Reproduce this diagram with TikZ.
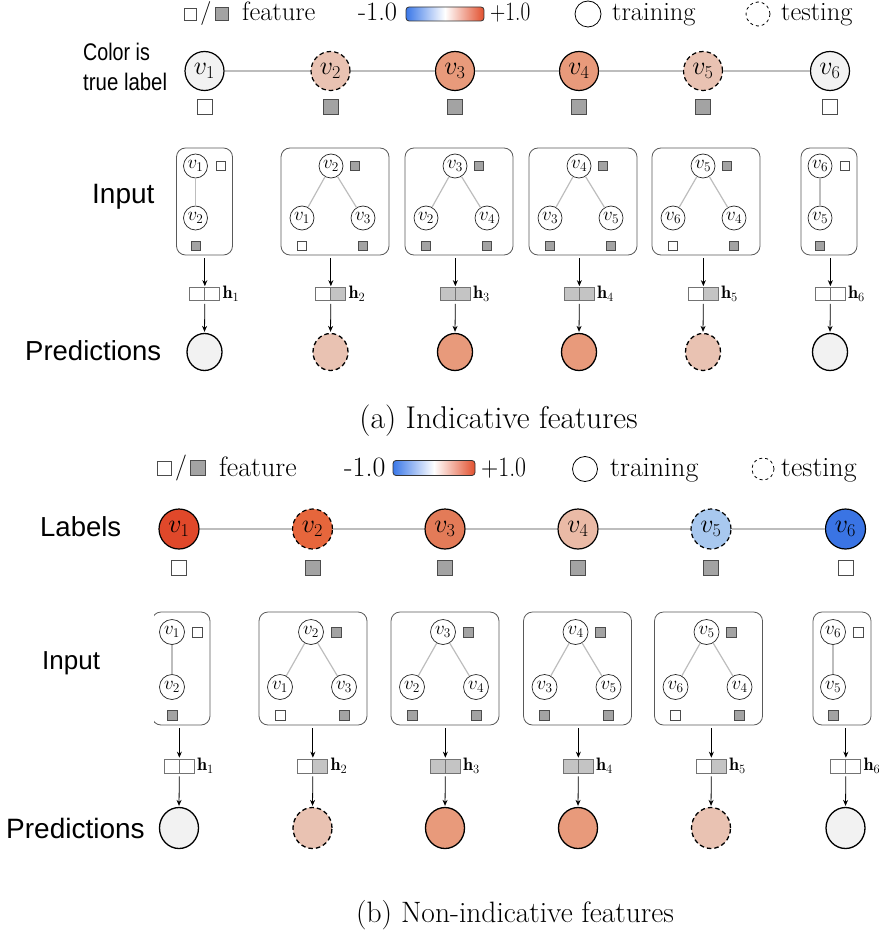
\RequirePackage{fix-cm}
\documentclass[tikz,border=0pt]{standalone}
\usepackage{fontspec}
\newfontfamily\sidefont{Liberation Sans}
\usetikzlibrary{shapes.geometric,arrows.meta}
\newcommand\fsz[1]{\fontsize{#1}{#1}\selectfont}

\definecolor{nodegray}{HTML}{F2F2F2}
\definecolor{salmonL}{HTML}{E9C2B2}
\definecolor{salmon}{HTML}{E89A7B}
\definecolor{redA}{HTML}{E0482A}
\definecolor{redB}{HTML}{E6663C}
\definecolor{redC}{HTML}{E37B58}
\definecolor{pinkD}{HTML}{EABAA6}
\definecolor{blueE}{HTML}{A8C8EF}
\definecolor{blueF}{HTML}{3A74E4}
\definecolor{featgray}{HTML}{A3A3A3}
\definecolor{cellgray}{HTML}{C4C4C4}
\definecolor{edgegray}{HTML}{BDBDBD}
\definecolor{cbblue}{HTML}{3B78E8}
\definecolor{cbred}{HTML}{E2502E}

\begin{document}
\begin{tikzpicture}[x=1pt,y=-1pt,font=\fsz{26.5},
  bignode/.style={circle,draw=black,line width=1.2pt,minimum size=39pt,inner sep=0pt,font=\fsz{26}},
  testnode/.style={dash pattern=on 4.5pt off 3pt},
  featf/.style={rectangle,draw=black!70,line width=.8pt,fill=featgray,minimum size=#1,inner sep=0pt},
  featw/.style={rectangle,draw=black!70,line width=.8pt,fill=white,minimum size=#1,inner sep=0pt},
  smallnode/.style={circle,draw=black!85,line width=.7pt,fill=white,minimum size=#1,inner sep=0pt,font=\fsz{19}},
  inbox/.style={rectangle,rounded corners=9pt,draw=black!65,line width=.8pt,inner sep=0pt},
  rowline/.style={draw=edgegray,line width=2.4pt},
  subedge/.style={draw=edgegray,line width=1.2pt},
  arr/.style={-{Stealth[length=6pt,width=5pt]},line width=.8pt,shorten <=3pt,shorten >=1pt},
  hcell/.style={rectangle,draw=black!55,line width=.7pt,minimum width=15pt,minimum height=#1,inner sep=0pt},
  hlabel/.style={anchor=west,inner sep=2.5pt,font=\fsz{18}},
  pred/.style={ellipse,draw=black,line width=1.3pt,inner sep=0pt},
  sidelabel/.style={anchor=west,inner sep=0pt,font=\sidefont\fsz{#1}},
  legtext/.style={anchor=base west,inner sep=0pt},
  cbar/.style={rectangle,rounded corners=3pt,draw=black!80,line width=.8pt,left color=cbblue,right color=cbred,middle color=white,inner sep=0pt},
  legcirc/.style={circle,draw=black,line width=.8pt,minimum size=#1,inner sep=0pt},
  caption/.style={inner sep=0pt,font=\fsz{#1}}]
\useasboundingbox (0,0) rectangle (878,941);

% ---------------- (a) legend ----------------
\node[featw=12pt] (lgaw) at (190,14) {};
\node[inner sep=0pt,font=\fsz{24}] (lgas) at (206,14) {/};
\node[featf=13pt] (lgaf) at (222,14) {};
\node[legtext] (lgaft) at (242,21) {feature};
\node[legtext] (lgamin) at (358,21) {-1.0};
\node[cbar,minimum width=78pt,minimum height=14pt] (lgacb) at (445,14) {};
\node[legtext] (lgamax) at (490,21) {\scalebox{.8}[1]{+1.0}};
\node[legcirc=26pt] (lgatr) at (588,14) {};
\node[legtext] (lgatrt) at (612,21) {training};
\node[legcirc=24pt,dash pattern=on 3pt off 3pt] (lgate) at (758,14) {};
\node[legtext] (lgatet) at (781,21) {testing};

% ---------------- (a) graph with true labels ----------------
\node[anchor=base west,inner sep=0pt,font=\sidefont\fsz{24}] (colA) at (83,61) {\scalebox{.82}[1]{Color is}};
\node[anchor=base west,inner sep=0pt,font=\sidefont\fsz{24}] (colB) at (83,91) {\scalebox{.85}[1]{true label}};

\node[bignode,fill=nodegray] (ra1) at (204.5,71) {$v_1$};
\node[bignode,testnode,fill=salmonL] (ra2) at (330.5,71) {$v_2$};
\node[bignode,fill=salmon] (ra3) at (455,71) {$v_3$};
\node[bignode,fill=salmon] (ra4) at (579,71) {$v_4$};
\node[bignode,testnode,fill=salmonL] (ra5) at (703,71) {$v_5$};
\node[bignode,fill=nodegray] (ra6) at (830,71) {$v_6$};
\draw[rowline] (ra1) -- (ra2) (ra2) -- (ra3) (ra3) -- (ra4) (ra4) -- (ra5) (ra5) -- (ra6);
\node[featw=15pt] (fa1) at (204.5,107) {};
\node[featf=15pt] (fa2) at (330.5,107) {};
\node[featf=15pt] (fa3) at (455,107) {};
\node[featf=15pt] (fa4) at (579,107) {};
\node[featf=15pt] (fa5) at (703,107) {};
\node[featw=15pt] (fa6) at (830,107) {};

% ---------------- (a) input subgraphs ----------------
\node[sidelabel=28] (inlabA) at (92,197) {Input};
\node[inbox,minimum width=56pt,minimum height=107pt] (ina1) at (204.5,201.5) {};
\node[inbox,minimum width=108pt,minimum height=107pt] (ina2) at (335,201.5) {};
\node[inbox,minimum width=108pt,minimum height=107pt] (ina3) at (459,201.5) {};
\node[inbox,minimum width=108pt,minimum height=107pt] (ina4) at (583,201.5) {};
\node[inbox,minimum width=108pt,minimum height=107pt] (ina5) at (706,201.5) {};
\node[inbox,minimum width=56pt,minimum height=107pt] (ina6) at (829,201.5) {};

% box 1
\node[smallnode=24pt] (a1t) at (195.5,166) {$v_1$};
\node[featw=9pt] (a1tf) at (220.5,166) {};
\node[smallnode=24pt] (a1b) at (195.5,218) {$v_2$};
\node[featf=9pt] (a1bf) at (195.5,246) {};
\draw[subedge] (a1t) -- (a1b);
% box 2
\node[smallnode=24pt] (a2t) at (331,166) {$v_2$};
\node[featf=9pt] (a2tf) at (355,166) {};
\node[smallnode=24pt] (a2l) at (302,218) {$v_1$};
\node[smallnode=24pt] (a2r) at (363,218) {$v_3$};
\node[featw=9pt] (a2lf) at (302,246) {};
\node[featf=9pt] (a2rf) at (363,246) {};
\draw[subedge] (a2t) -- (a2l) (a2t) -- (a2r);
% box 3
\node[smallnode=24pt] (a3t) at (455,166) {$v_3$};
\node[featf=9pt] (a3tf) at (479,166) {};
\node[smallnode=24pt] (a3l) at (426,218) {$v_2$};
\node[smallnode=24pt] (a3r) at (487,218) {$v_4$};
\node[featf=9pt] (a3lf) at (426,246) {};
\node[featf=9pt] (a3rf) at (487,246) {};
\draw[subedge] (a3t) -- (a3l) (a3t) -- (a3r);
% box 4
\node[smallnode=24pt] (a4t) at (579,166) {$v_4$};
\node[featf=9pt] (a4tf) at (603,166) {};
\node[smallnode=24pt] (a4l) at (550,218) {$v_3$};
\node[smallnode=24pt] (a4r) at (611,218) {$v_5$};
\node[featf=9pt] (a4lf) at (550,246) {};
\node[featf=9pt] (a4rf) at (611,246) {};
\draw[subedge] (a4t) -- (a4l) (a4t) -- (a4r);
% box 5
\node[smallnode=24pt] (a5t) at (703,166) {$v_5$};
\node[featf=9pt] (a5tf) at (727,166) {};
\node[smallnode=24pt] (a5l) at (673,218) {$v_6$};
\node[smallnode=24pt] (a5r) at (734,218) {$v_4$};
\node[featw=9pt] (a5lf) at (673,246) {};
\node[featf=9pt] (a5rf) at (734,246) {};
\draw[subedge] (a5t) -- (a5l) (a5t) -- (a5r);
% box 6
\node[smallnode=24pt] (a6t) at (820,166) {$v_6$};
\node[featw=9pt] (a6tf) at (845,166) {};
\node[smallnode=24pt] (a6b) at (820,218) {$v_5$};
\node[featf=9pt] (a6bf) at (820,246) {};
\draw[subedge] (a6t) -- (a6b);

% ---------------- (a) embeddings and predictions ----------------
\node[hcell=13pt,fill=white]    (ha1l) at (197,294) {};
\node[hcell=13pt,fill=white]    (ha1r) at (212,294) {};
\node[hcell=13pt,fill=white]    (ha2l) at (323,294) {};
\node[hcell=13pt,fill=cellgray] (ha2r) at (338,294) {};
\node[hcell=13pt,fill=cellgray] (ha3l) at (447.5,294) {};
\node[hcell=13pt,fill=cellgray] (ha3r) at (462.5,294) {};
\node[hcell=13pt,fill=cellgray] (ha4l) at (571.5,294) {};
\node[hcell=13pt,fill=cellgray] (ha4r) at (586.5,294) {};
\node[hcell=13pt,fill=white]    (ha5l) at (695.5,294) {};
\node[hcell=13pt,fill=cellgray] (ha5r) at (710.5,294) {};
\node[hcell=13pt,fill=white]    (ha6l) at (822.5,294) {};
\node[hcell=13pt,fill=white]    (ha6r) at (837.5,294) {};
\node[hlabel] (hta1) at (ha1r.east) {$\mathbf{h}_1$};
\node[hlabel] (hta2) at (ha2r.east) {$\mathbf{h}_2$};
\node[hlabel] (hta3) at (ha3r.east) {$\mathbf{h}_3$};
\node[hlabel] (hta4) at (ha4r.east) {$\mathbf{h}_4$};
\node[hlabel] (hta5) at (ha5r.east) {$\mathbf{h}_5$};
\node[hlabel] (hta6) at (ha6r.east) {$\mathbf{h}_6$};

\node[sidelabel=27.5] (predlabA) at (25,351) {Predictions};
\node[pred,fill=nodegray,minimum width=35pt,minimum height=37pt] (pa1) at (204.5,352) {};
\node[pred,testnode,fill=salmonL,minimum width=35pt,minimum height=37pt] (pa2) at (330.5,352) {};
\node[pred,fill=salmon,minimum width=35pt,minimum height=37pt] (pa3) at (455,352) {};
\node[pred,fill=salmon,minimum width=35pt,minimum height=37pt] (pa4) at (579,352) {};
\node[pred,testnode,fill=salmonL,minimum width=35pt,minimum height=37pt] (pa5) at (703,352) {};
\node[pred,fill=nodegray,minimum width=35pt,minimum height=37pt] (pa6) at (830,352) {};

\foreach \k in {1,...,6}{
  \draw[arr] (ina\k.south -| ha\k l.east) -- (ha\k l.north east);
  \draw[arr] (ha\k l.south east) -- (pa\k.north);
}

\node[caption=31.5] (capA) at (498.5,421) {(a) Indicative features};

% ---------------- (b) legend ----------------
\begin{scope}[font=\fsz{28}]
\node[featw=14pt] (lgbw) at (164,468) {};
\node[inner sep=0pt,font=\fsz{26}] (lgbs) at (181,468) {/};
\node[featf=15pt] (lgbf) at (198,468) {};
\node[legtext] (lgbft) at (219,476) {feature};
\node[legtext] (lgbmin) at (344,476) {-1.0};
\node[cbar,minimum width=82pt,minimum height=15pt] (lgbcb) at (434,468) {};
\node[legtext] (lgbmax) at (481,476) {\scalebox{.85}[1]{+1.0}};
\node[legcirc=25pt] (lgbtr) at (585,469) {};
\node[legtext] (lgbtrt) at (610,476) {training};
\node[legcirc=22pt,dash pattern=on 3pt off 3pt] (lgbte) at (763,469) {};
\node[legtext] (lgbtet) at (781,476) {testing};
\end{scope}

% ---------------- (b) graph with labels ----------------
\node[sidelabel=27.5] (lablabB) at (40,527) {Labels};
\node[bignode,minimum size=40pt,fill=redA] (rb1) at (179,529) {$v_1$};
\node[bignode,minimum size=40pt,testnode,fill=redB] (rb2) at (312.5,529) {$v_2$};
\node[bignode,minimum size=40pt,fill=redC] (rb3) at (445,529) {$v_3$};
\node[bignode,minimum size=40pt,fill=pinkD] (rb4) at (578,529) {$v_4$};
\node[bignode,minimum size=40pt,testnode,fill=blueE] (rb5) at (711,529) {$v_5$};
\node[bignode,minimum size=40pt,fill=blueF] (rb6) at (845.5,529) {$v_6$};
\draw[rowline] (rb1) -- (rb2) (rb2) -- (rb3) (rb3) -- (rb4) (rb4) -- (rb5) (rb5) -- (rb6);
\node[featw=15pt] (fb1) at (179,568) {};
\node[featf=15pt] (fb2) at (312.5,568) {};
\node[featf=15pt] (fb3) at (445,568) {};
\node[featf=15pt] (fb4) at (578,568) {};
\node[featf=15pt] (fb5) at (711,568) {};
\node[featw=15pt] (fb6) at (845.5,568) {};

% ---------------- (b) input subgraphs ----------------
\node[sidelabel=26] (inlabB) at (42,663) {Input};
\begin{scope}
  \clip (154,600) rectangle (240,740);
  \node[inbox,minimum width=58pt,minimum height=113pt] (inb1) at (181,668.5) {};
\end{scope}
\node[inbox,minimum width=108pt,minimum height=113pt] (inb2) at (313,668.5) {};
\node[inbox,minimum width=108pt,minimum height=113pt] (inb3) at (445,668.5) {};
\node[inbox,minimum width=108pt,minimum height=113pt] (inb4) at (577.5,668.5) {};
\node[inbox,minimum width=108pt,minimum height=113pt] (inb5) at (708.5,668.5) {};
\node[inbox,minimum width=58pt,minimum height=113pt] (inb6) at (842,668.5) {};

% box 1
\node[smallnode=25pt] (b1t) at (172,632) {$v_1$};
\node[featw=10pt] (b1tf) at (197,632) {};
\node[smallnode=25pt] (b1b) at (172,687) {$v_2$};
\node[featf=10pt] (b1bf) at (172,715) {};
\draw[subedge] (b1t) -- (b1b);
% box 2
\node[smallnode=25pt] (b2t) at (311,632) {$v_2$};
\node[featf=10pt] (b2tf) at (336,632) {};
\node[smallnode=25pt] (b2l) at (280,687) {$v_1$};
\node[smallnode=25pt] (b2r) at (344,687) {$v_3$};
\node[featw=10pt] (b2lf) at (280,715) {};
\node[featf=10pt] (b2rf) at (344,715) {};
\draw[subedge] (b2t) -- (b2l) (b2t) -- (b2r);
% box 3
\node[smallnode=25pt] (b3t) at (443,632) {$v_3$};
\node[featf=10pt] (b3tf) at (468,632) {};
\node[smallnode=25pt] (b3l) at (412,687) {$v_2$};
\node[smallnode=25pt] (b3r) at (476,687) {$v_4$};
\node[featf=10pt] (b3lf) at (412,715) {};
\node[featf=10pt] (b3rf) at (476,715) {};
\draw[subedge] (b3t) -- (b3l) (b3t) -- (b3r);
% box 4
\node[smallnode=25pt] (b4t) at (575.5,632) {$v_4$};
\node[featf=10pt] (b4tf) at (600.5,632) {};
\node[smallnode=25pt] (b4l) at (544.5,687) {$v_3$};
\node[smallnode=25pt] (b4r) at (608.5,687) {$v_5$};
\node[featf=10pt] (b4lf) at (544.5,715) {};
\node[featf=10pt] (b4rf) at (608.5,715) {};
\draw[subedge] (b4t) -- (b4l) (b4t) -- (b4r);
% box 5
\node[smallnode=25pt] (b5t) at (706.5,632) {$v_5$};
\node[featf=10pt] (b5tf) at (731.5,632) {};
\node[smallnode=25pt] (b5l) at (675.5,687) {$v_6$};
\node[smallnode=25pt] (b5r) at (739.5,687) {$v_4$};
\node[featw=10pt] (b5lf) at (675.5,715) {};
\node[featf=10pt] (b5rf) at (739.5,715) {};
\draw[subedge] (b5t) -- (b5l) (b5t) -- (b5r);
% box 6
\node[smallnode=25pt] (b6t) at (833,632) {$v_6$};
\node[featw=10pt] (b6tf) at (858,632) {};
\node[smallnode=25pt] (b6b) at (833,687) {$v_5$};
\node[featf=10pt] (b6bf) at (833,715) {};
\draw[subedge] (b6t) -- (b6b);

% ---------------- (b) embeddings and predictions ----------------
\node[hcell=14pt,fill=white]    (hb1l) at (171.5,766) {};
\node[hcell=14pt,fill=white]    (hb1r) at (186.5,766) {};
\node[hcell=14pt,fill=white]    (hb2l) at (305,766) {};
\node[hcell=14pt,fill=cellgray] (hb2r) at (320,766) {};
\node[hcell=14pt,fill=cellgray] (hb3l) at (437.5,766) {};
\node[hcell=14pt,fill=cellgray] (hb3r) at (452.5,766) {};
\node[hcell=14pt,fill=cellgray] (hb4l) at (570.5,766) {};
\node[hcell=14pt,fill=cellgray] (hb4r) at (585.5,766) {};
\node[hcell=14pt,fill=white]    (hb5l) at (703.5,766) {};
\node[hcell=14pt,fill=cellgray] (hb5r) at (718.5,766) {};
\node[hcell=14pt,fill=white]    (hb6l) at (838,766) {};
\node[hcell=14pt,fill=white]    (hb6r) at (853,766) {};
\node[hlabel] (htb1) at (hb1r.east) {$\mathbf{h}_1$};
\node[hlabel] (htb2) at (hb2r.east) {$\mathbf{h}_2$};
\node[hlabel] (htb3) at (hb3r.east) {$\mathbf{h}_3$};
\node[hlabel] (htb4) at (hb4r.east) {$\mathbf{h}_4$};
\node[hlabel] (htb5) at (hb5r.east) {$\mathbf{h}_5$};
\node[hlabel] (htb6) at (hb6r.east) {$\mathbf{h}_6$};

\node[sidelabel=28] (predlabB) at (6,828) {Predictions};
\node[pred,fill=nodegray,minimum width=39pt,minimum height=41pt] (pb1) at (179,828) {};
\node[pred,testnode,fill=salmonL,minimum width=39pt,minimum height=41pt] (pb2) at (312.5,828) {};
\node[pred,fill=salmon,minimum width=39pt,minimum height=41pt] (pb3) at (445,828) {};
\node[pred,fill=salmon,minimum width=39pt,minimum height=41pt] (pb4) at (578,828) {};
\node[pred,testnode,fill=salmonL,minimum width=39pt,minimum height=41pt] (pb5) at (711,828) {};
\node[pred,fill=nodegray,minimum width=39pt,minimum height=41pt] (pb6) at (845.5,828) {};

\foreach \k in {1,...,6}{
  \draw[arr] (inb\k.south -| hb\k l.east) -- (hb\k l.north east);
  \draw[arr] (hb\k l.south east) -- (pb\k.north);
}

\node[caption=29.5] (capB) at (515,915) {(b) Non-indicative features};
\end{tikzpicture}
\end{document}
